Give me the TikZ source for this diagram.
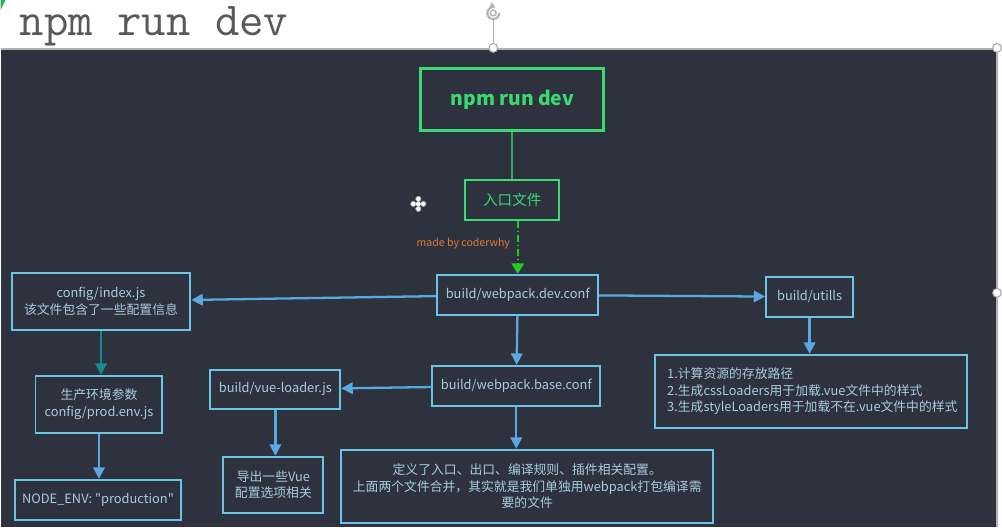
\documentclass[tikz,border=0pt]{standalone}
\usepackage{fontspec}
\setmainfont{Noto Sans CJK SC}
\newfontfamily\plaincjk{Noto Sans CJK SC}
\usepackage{tikz}
\usetikzlibrary{arrows.meta, positioning}
\definecolor{bgdark}{HTML}{2E323E}
\definecolor{boxblue}{HTML}{6CC4E4}
\definecolor{arrowblue}{HTML}{5AA8E0}
\definecolor{textblue}{HTML}{A6CCDE}
\definecolor{devgreen}{HTML}{3CD870}
\definecolor{dashgreen}{HTML}{22CC22}
\definecolor{tealarrow}{HTML}{138C90}
\definecolor{signorange}{HTML}{E07A2C}

\begin{document}
\begin{tikzpicture}[x=0.02cm, y=-0.02cm]
    \tikzstyle{block} = [rectangle, draw=boxblue, line width=1.1pt, text=textblue, font=\fontsize{7.3}{9.3}\selectfont, align=center, inner sep=0pt]
    \tikzstyle{start} = [rectangle, draw=devgreen, line width=1.7pt, text=devgreen, font=\fontsize{11}{13}\selectfont\bfseries]
    \tikzstyle{entrybox} = [rectangle, draw=devgreen, line width=1.1pt, text=devgreen, font=\fontsize{8.3}{10}\selectfont]
    \tikzstyle{arrow} = [line width=1.3pt, draw=arrowblue, -{Triangle[width=6.5pt, length=6.5pt]}]
    \tikzstyle{handle} = [circle, draw=gray!70, fill=white, line width=0.6pt, inner sep=0pt, minimum size=5pt]

    % slide and title bar
    \fill [white] (0,0) rectangle (1002,527);
    \fill [bgdark] (0,49) rectangle (997,527);
    \draw [gray!60, line width=0.6pt] (0,49) -- (997,49) -- (997,527);
    \fill [devgreen!80!black] (0,0) -- (5,0) -- (0,10) -- cycle;
    \node [anchor=base west, text=black!65, font=\fontsize{27}{30}\ttfamily, inner sep=0pt] (title) at (19,36) {npm run dev};

    % selection handles
    \node [handle] (htop) at (493,48) {};
    \node [handle] (hcorner) at (997,48) {};
    \node [handle] (hright) at (997,293) {};
    \coordinate (rot) at (493,13);
    \draw [gray!60, line width=1.2pt, -{Triangle[width=4pt, length=3pt]}] (499,13) arc (0:290:6);
    \draw [gray!60, line width=0.8pt] (rot) circle (3);
    \draw [gray!60, line width=0.6pt] (493,19) -- (htop);

    % move cursor
    \foreach \dx/\dy in {0/-5, 5/0, 0/5, -5/0}
        \filldraw [fill=white, draw=gray!70, line width=0.4pt] (418+\dx,204+\dy) circle (2.6);
    \fill [white] (418,204) circle (2.5);

    \node [start, minimum width=3.66cm, minimum height=1.24cm] (npm) at (512,100) {npm run dev};
    \node [entrybox, minimum width=1.88cm, minimum height=0.8cm] (entry) at (512,200) {入口文件};
    \node [text=signorange, font=\fontsize{6}{7}\selectfont, inner sep=0pt] (credit) at (463,244) {made by coderwhy};

    \node [block, minimum width=3.22cm, minimum height=0.8cm] (devconf) at (517.5,295) {build/webpack.dev.conf};
    \node [block, minimum width=3.58cm, minimum height=1.14cm] (config) at (100.5,301.5) {config/index.js\\该文件包含了一些配置信息};
    \node [block, minimum width=1.74cm, minimum height=0.8cm] (utils) at (809.5,297) {build/utills};
    \node [block, align=left, text width=5.76cm, inner xsep=0.24cm, minimum height=1.46cm] (tasks) at (811,391.5) {1.计算资源的存放路径\\2.生成cssLoaders用于加载.vue文件中的样式\\3.生成styleLoaders用于加载不在.vue文件中的样式};
    \node [block, minimum width=3.36cm, minimum height=0.8cm] (baseconf) at (516,386) {build/webpack.base.conf};
    \node [block, minimum width=2.6cm, minimum height=0.78cm] (vueloader) at (275,389.5) {build/vue-loader.js};
    \node [block, minimum width=2cm, minimum height=1.12cm] (vueopts) at (273,485) {导出一些Vue\\配置选项相关};
    \node [block, minimum width=7.44cm, minimum height=1.46cm] (merged) at (527,486.5) {定义了入口、出口、编译规则、插件相关配置。\\上面两个文件合并，其实就是我们单独用webpack打包编译需\\要的文件};
    \node [block, minimum width=2.54cm, minimum height=1.14cm] (prodenv) at (98.5,404.5) {生产环境参数\\config/prod.env.js};
    \node [block, minimum width=3.34cm, minimum height=0.8cm] (nodeenv) at (97.5,500) {\plaincjk NODE\_ENV: "production"};

    \draw [devgreen!70!bgdark, line width=1pt] (npm) -- (entry);
    \draw [dashgreen, line width=1.4pt, dash pattern=on 4pt off 1.5pt on 1pt off 1.5pt, -{Triangle[width=7pt, length=6pt]}] (entry.south -| devconf.north) -- (devconf.north);
    \draw [arrow] (devconf) -- (config);
    \draw [arrow] (devconf) -- (utils);
    \draw [arrow] (devconf) -- (baseconf);
    \draw [arrow] (utils.south) -- (utils.south |- tasks.north);
    \draw [arrow] (baseconf) -- (vueloader);
    \draw [arrow] (baseconf.south) -- (baseconf.south |- merged.north);
    \draw [arrow] (vueloader.south) -- (vueloader.south |- vueopts.north);
    \draw [arrow, draw=tealarrow] (config.south) -- (config.south |- prodenv.north);
    \draw [arrow] (prodenv.south) -- (prodenv.south |- nodeenv.north);
\end{tikzpicture}
\end{document}
